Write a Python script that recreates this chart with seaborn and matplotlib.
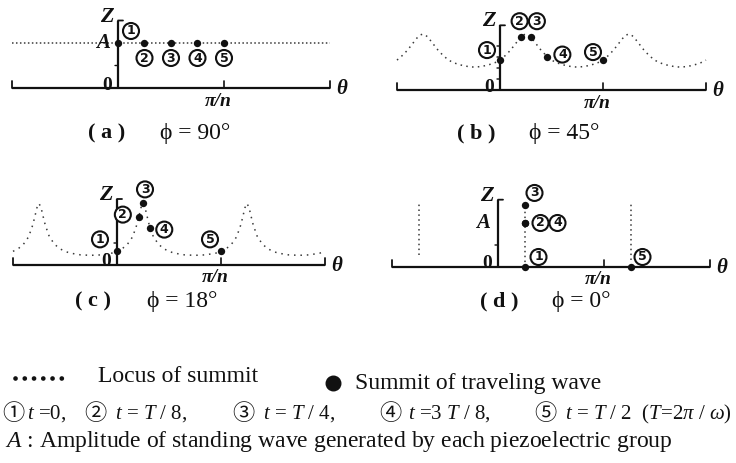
import matplotlib
matplotlib.use("Agg")
import numpy as np
import pandas as pd
import matplotlib.pyplot as plt
import seaborn as sns

sns.set_theme(style="white")
plt.rcParams["font.family"] = ["Liberation Serif", "Noto Sans CJK JP", "DejaVu Serif"]
plt.rcParams["mathtext.fontset"] = "custom"
plt.rcParams["mathtext.rm"] = "Liberation Serif"
plt.rcParams["mathtext.it"] = "Liberation Serif:italic"
plt.rcParams["mathtext.bf"] = "Liberation Serif:bold"

# ---------------- data: theta in units of pi/n, Z in units of A ----------------
STEP_NUMBERS = ["1", "2", "3", "4", "5"]

# (a) phi = 90 deg
a_locus_theta = [-1.0, 2.0]
a_locus_z = [1.0, 1.0]
a_theta = [0.0, 0.25, 0.5, 0.75, 1.0]
a_z = [1.0, 1.0, 1.0, 1.0, 1.0]

# (b) phi = 45 deg
b_locus_theta = [-1.00, -0.95, -0.90, -0.85, -0.80, -0.775, -0.75, -0.725, -0.70, -0.65,
                 -0.60, -0.55, -0.50, -0.45, -0.40, -0.35, -0.30, -0.25, -0.20, -0.15,
                 -0.10, -0.05, 0.00, 0.05, 0.10, 0.15, 0.20, 0.225, 0.25, 0.275,
                 0.30, 0.35, 0.40, 0.45, 0.50, 0.55, 0.60, 0.65, 0.70, 0.75,
                 0.80, 0.85, 0.90, 0.95, 1.00, 1.05, 1.10, 1.15, 1.20, 1.225,
                 1.25, 1.275, 1.30, 1.35, 1.40, 1.45, 1.50, 1.55, 1.60, 1.65,
                 1.70, 1.75, 1.80, 1.85, 1.90, 1.95, 2.00]
b_locus_z = [0.68, 0.78, 0.90, 1.05, 1.20, 1.25, 1.27, 1.25, 1.20, 1.05,
             0.90, 0.78, 0.68, 0.62, 0.58, 0.55, 0.53, 0.52, 0.53, 0.55,
             0.58, 0.62, 0.68, 0.78, 0.90, 1.05, 1.20, 1.25, 1.27, 1.25,
             1.20, 1.05, 0.90, 0.78, 0.68, 0.62, 0.58, 0.55, 0.53, 0.52,
             0.53, 0.55, 0.58, 0.62, 0.68, 0.78, 0.90, 1.05, 1.20, 1.25,
             1.27, 1.25, 1.20, 1.05, 0.90, 0.78, 0.68, 0.62, 0.58, 0.55,
             0.53, 0.52, 0.53, 0.55, 0.58, 0.62, 0.68]
b_theta = [0.0, 0.2, 0.3, 0.46, 1.0]
b_z = [0.68, 1.2, 1.2, 0.76, 0.68]

# (c) phi = 18 deg
c_locus_theta = [-1.00, -0.95, -0.90, -0.85, -0.81, -0.79, -0.77, -0.75, -0.73, -0.71,
                 -0.69, -0.65, -0.60, -0.55, -0.50, -0.45, -0.35, -0.25, -0.15, -0.05,
                 0.00, 0.05, 0.10, 0.15, 0.19, 0.21, 0.23, 0.25, 0.27, 0.29,
                 0.31, 0.35, 0.40, 0.45, 0.50, 0.55, 0.65, 0.75, 0.85, 0.95,
                 1.00, 1.05, 1.10, 1.15, 1.19, 1.21, 1.23, 1.25, 1.27, 1.29,
                 1.31, 1.35, 1.40, 1.45, 1.50, 1.55, 1.65, 1.75, 1.85, 1.95, 2.00]
c_locus_z = [0.31, 0.37, 0.47, 0.64, 0.91, 1.10, 1.30, 1.40, 1.30, 1.10,
             0.91, 0.64, 0.47, 0.37, 0.31, 0.27, 0.23, 0.22, 0.23, 0.27,
             0.31, 0.37, 0.47, 0.64, 0.91, 1.10, 1.30, 1.40, 1.30, 1.10,
             0.91, 0.64, 0.47, 0.37, 0.31, 0.27, 0.23, 0.22, 0.23, 0.27,
             0.31, 0.37, 0.47, 0.64, 0.91, 1.10, 1.30, 1.40, 1.30, 1.10,
             0.91, 0.64, 0.47, 0.37, 0.31, 0.27, 0.23, 0.22, 0.23, 0.27, 0.31]
c_theta = [0.0, 0.21, 0.25, 0.32, 1.0]
c_z = [0.31, 1.10, 1.40, 0.85, 0.31]

# (d) phi = 0 deg
d_locus_theta = [-0.75, -0.75, 0.25, 0.25, 1.25, 1.25]
d_locus_z = [0.27, 1.45, 0.0, 1.41, 0.15, 1.45]
d_locus_branch = [0, 0, 1, 1, 2, 2]
d_theta = [0.25, 0.25, 0.25, 0.25, 1.25]
d_z = [0.0, 1.0, 1.41, 1.0, 0.0]

# ---------------- layout ----------------
W, H = 736, 463
fig = plt.figure(figsize=(W / 100, H / 100), dpi=100)
XLIM = (-1.25, 2.4)
YLIM = (-0.8, 1.85)
INK = "#111111"
DOT = "#3a3a3a"


def make_axes(x0, y0, ux, uy):
    left = (x0 + XLIM[0] * ux) / W
    width = (XLIM[1] - XLIM[0]) * ux / W
    bottom = 1 - (y0 - YLIM[0] * uy) / H
    height = (YLIM[1] - YLIM[0]) * uy / H
    ax = fig.add_axes([left, bottom, width, height])
    ax.set_xlim(XLIM)
    ax.set_ylim(YLIM)
    ax.axis("off")
    return ax


def stub(ax, xy, dx, dy, lw):
    ax.annotate("", xy=xy, xytext=(dx, dy), textcoords="offset pixels",
                arrowprops=dict(arrowstyle="-", color=INK, lw=lw, shrinkA=0, shrinkB=0))


def frame(ax, ztop, yticks, show_a):
    # theta axis with hooked ends and the pi/n tick
    ax.plot([-1, 2], [0, 0], color=INK, lw=1.6, solid_capstyle="butt")
    for xe in (-1, 2):
        stub(ax, (xe, 0), 0, 7, 1.3)
    stub(ax, (1, 0), 0, 7, 1.2)
    # Z axis with a bracket top and small ticks
    ax.plot([0, 0], [0, ztop], color=INK, lw=1.6, solid_capstyle="butt")
    stub(ax, (0, ztop), 5, 0, 1.3)
    for yt in yticks:
        stub(ax, (0, yt), -3, 0, 1.0)
    txt = dict(color=INK, fontweight="bold", ha="center", va="center")
    ax.annotate("0", (0, 0), xytext=(-11, 3), textcoords="offset pixels", fontsize=14, **txt)
    ax.annotate("Z", (0, ztop), xytext=(-11, 4), textcoords="offset pixels",
                fontsize=16, fontstyle="italic", **txt)
    ax.annotate("θ", (2, 0), xytext=(12, -1), textcoords="offset pixels",
                fontsize=15, fontstyle="italic", **txt)
    ax.annotate("π/n", (1, 0), xytext=(-6, -13), textcoords="offset pixels",
                fontsize=14, fontstyle="italic", **txt)
    if show_a:
        ax.annotate("A", (0, 1), xytext=(-15, 0), textcoords="offset pixels",
                    fontsize=15, fontstyle="italic", **txt)


def circled(ax, theta, z, offsets):
    for lab, t, zz, (dx, dy) in zip(STEP_NUMBERS, theta, z, offsets):
        ax.annotate(lab, (t, zz), xytext=(dx, dy), textcoords="offset pixels",
                    fontsize=9, fontweight="bold", family=["DejaVu Sans"],
                    ha="center", va="center", color=INK, zorder=6,
                    bbox=dict(boxstyle="circle,pad=0.12", fc="white", ec=INK, lw=1.5))


def locus(ax, theta, z, dashes, units=None):
    df = pd.DataFrame({"theta": theta, "z": z})
    kw = {}
    if units is not None:
        df["branch"] = units
        kw = dict(units="branch", estimator=None)
    sns.lineplot(data=df, x="theta", y="z", ax=ax, sort=False, color=DOT,
                 lw=1.1, linestyle=(0, dashes), legend=False, **kw)


def summits(ax, theta, z):
    df = pd.DataFrame({"theta": theta, "z": z})
    sns.scatterplot(data=df, x="theta", y="z", ax=ax, color=INK, s=28,
                    edgecolor=INK, linewidth=0, legend=False, zorder=5)
    ax.axis("off")


# (a)
ax_a = make_axes(118, 88, 106, 45)
frame(ax_a, 1.5, [0.5], True)
locus(ax_a, a_locus_theta, a_locus_z, (1, 1.6))
summits(ax_a, a_theta, a_z)
circled(ax_a, a_theta, a_z, [(13, 12), (0, -15), (0, -15), (0, -15), (0, -15)])

# (b)
ax_b = make_axes(500, 90, 103, 44)
frame(ax_b, 1.47, [0.25, 0.5, 0.75, 1.0], False)
locus(ax_b, b_locus_theta, b_locus_z, (1, 2.8))
summits(ax_b, b_theta, b_z)
circled(ax_b, b_theta, b_z, [(-13, 10), (-1, 16), (6, 16), (15, 2), (-10, 8)])

# (c)
ax_c = make_axes(117, 265, 104, 44)
frame(ax_c, 1.5, [0.5], False)
locus(ax_c, c_locus_theta, c_locus_z, (1, 3.2))
summits(ax_c, c_theta, c_z)
circled(ax_c, c_theta, c_z, [(-17, 12), (-16, 2), (2, 14), (14, -2), (-11, 12)])

# (d)
ax_d = make_axes(498, 267, 106, 44)
frame(ax_d, 1.53, [0.5], True)
locus(ax_d, d_locus_theta, d_locus_z, (1, 2.2), units=d_locus_branch)
summits(ax_d, d_theta, d_z)
circled(ax_d, d_theta, d_z, [(14, 10), (16, 0), (10, 12), (33, 0), (12, 10)])

# panel captions
for x, y, tag, phi in [(88, 133, "a", "90°"), (457, 133, "b", "45°"),
                       (75, 301, "c", "18°"), (480, 301, "d", "0°")]:
    fig.text(x / W, 1 - y / H, "( " + tag + " )", fontsize=16, fontweight="bold",
             color=INK, va="center", ha="left")
    fig.text((x + 72) / W, 1 - y / H, "ϕ = " + phi, fontsize=17, color=INK,
             va="center", ha="left")

# key below the panels
key = fig.add_axes([0, 0, 1, 1], zorder=-1)
key.set_xlim(0, W)
key.set_ylim(H, 0)
key.axis("off")
key.plot([15, 64], [378, 378], color=INK, lw=3.4, linestyle=(0, (0.01, 1.95)),
         dash_capstyle="round")
key.text(98, 377, "Locus of summit", fontsize=17, va="center", color=INK)
key.scatter([333], [383], s=110, color=INK)
key.text(355, 383, "Summit of traveling wave", fontsize=17, va="center", color=INK)

row2 = [(13, "①", 27, "$t$ =0,"), (95, "②", 115, "$t$ = $T$ / 8,"),
        (243, "③", 263, "$t$ = $T$ / 4,"), (390, "④", 408, "$t$ =3 $T$ / 8,"),
        (545, "⑤", 565, "$t$ = $T$ / 2  ($T$=2$\\pi$ / $\\omega$)")]
for cx, lab, tx, s in row2:
    key.text(cx, 413, lab, fontsize=16, family=["Noto Sans CJK JP"], ha="center",
             va="center", color=INK)
    key.text(tx, 414, s, fontsize=15, va="center", color=INK)
key.text(5, 442, "$A$ : Amplitude of standing wave generated by each piezoelectric group",
         fontsize=17, va="center", color=INK)

fig.savefig("out.png", dpi=100, facecolor="white")
